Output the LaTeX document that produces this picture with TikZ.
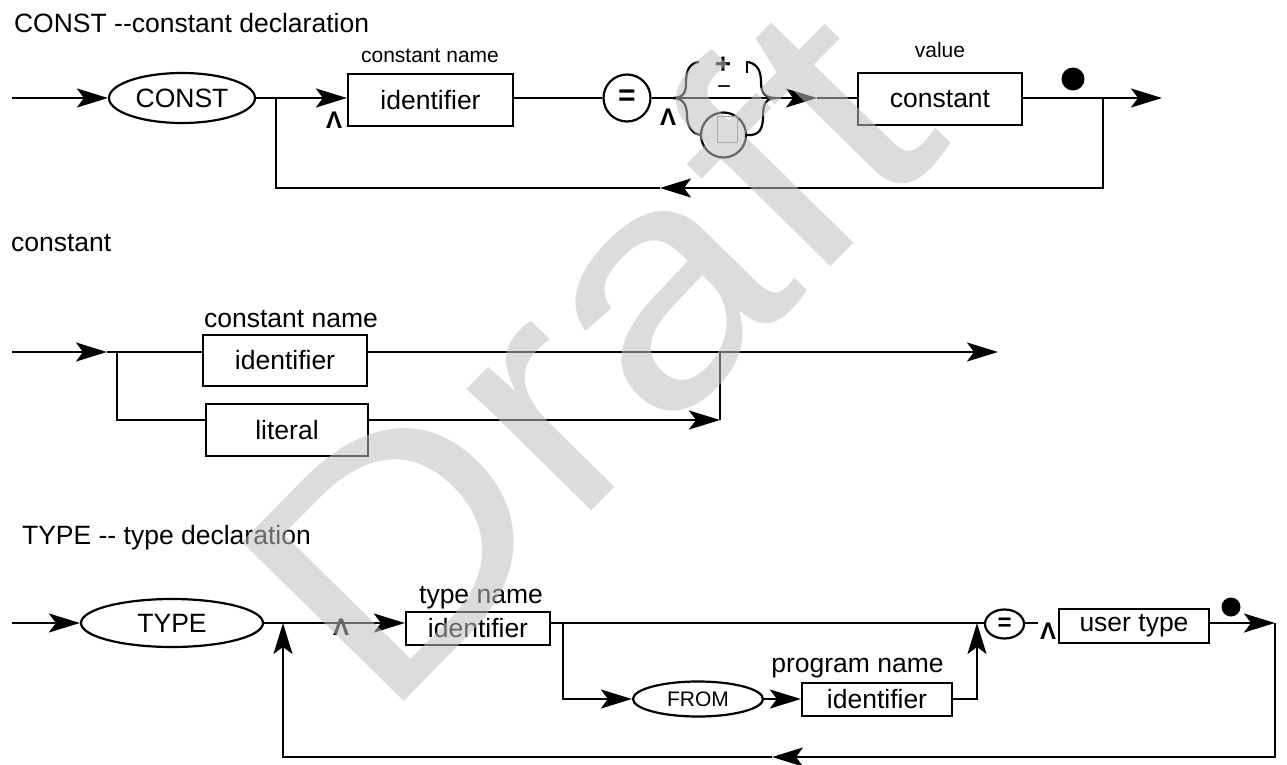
\documentclass[tikz,border=0pt]{standalone}
\usepackage{fontspec}
\setmainfont{Liberation Sans}
\usetikzlibrary{arrows.meta,shapes.geometric}
\definecolor{wmark}{RGB}{191,191,191}
\definecolor{tofu}{RGB}{150,150,150}

\tikzset{
  big/.style={font=\fontsize{26.5}{30}\selectfont},
  small/.style={font=\fontsize{21}{24}\selectfont},
  flow/.style={-{Stealth[length=31pt,width=19pt,inset=7pt]}},
  kw/.style={draw, ellipse, inner sep=0pt, big},
  term/.style={draw, rectangle, inner sep=0pt, big},
  lbl/.style={anchor=base, inner sep=0pt},
  title/.style={big, anchor=base west, inner sep=0pt},
  caret/.style={inner sep=0pt, font=\fontsize{24}{24}\selectfont\bfseries},
  dot/.style={circle, fill, inner sep=0pt},
}

\begin{document}
\begin{tikzpicture}[x=1pt,y=-1pt,line width=2.2pt]
\useasboundingbox (0,0) rectangle (1287,765);

% ---------------- CONST declaration ----------------
\node[title] (t1) at (13,33) {CONST -{}-constant declaration};
\coordinate (s1) at (12,98);
\node[kw, minimum width=146pt, minimum height=50pt] (const) at (182,98) {CONST};
\node[term, minimum width=165pt, minimum height=52pt] (id1) at (430.5,100) {identifier};
\node[small, lbl] (l1) at (430,63) {constant name};
\node[caret] (c1) at (334,120) {Λ};
\node[draw, circle, minimum size=47pt, inner sep=0pt, font=\fontsize{30}{30}\selectfont\bfseries] (eq1) at (627,98) {=};
\node[term, minimum width=164pt, minimum height=52pt] (cst) at (940,99) {constant};
\node[small, lbl] (l2) at (940,58) {value};
\node[dot, minimum size=23pt] (d1) at (1073,79) {};
\coordinate (j1) at (276,98);
\coordinate (j2) at (1103,98);
\coordinate (e1) at (1162,98);
\coordinate (r1) at (660,188);
\coordinate (a1) at (817,98);

\draw[flow] (s1) -- (const.west);
\draw[flow] (const.east) -- (id1.west |- const.east);
\draw (id1.east |- eq1.west) -- (eq1.west);
\draw[flow] (eq1.east) -- (a1);
\draw (a1) -- (cst.west |- a1);
\draw[flow] (cst.east |- j2) -- (e1);
\draw[flow] (j2) |- (r1);
\draw (r1) -| (j1);

% sign choice
\coordinate (bl) at (673,98);
\coordinate (br) at (776,98);
\node[draw, circle, minimum size=45pt, inner sep=0pt] (alt) at (723.5,135) {};
\draw[tofu, line width=1pt] (717,117) rectangle (737,142);
\node[inner sep=0pt, font=\fontsize{28}{28}\selectfont\bfseries] (plus) at (723,65) {+};
\node[inner sep=0pt, font=\fontsize{24}{24}\selectfont] (minus) at (724,90) {−};
\node[caret] (c2) at (668,117) {Λ};
\draw (bl) .. controls (685,98) and (686,90) .. (686,82) .. controls (686,70) and (690,63) .. (699,62);
\draw (bl) .. controls (685,98) and (687,108) .. (687,116) .. controls (687,128) and (694,134) .. (alt.west);
\draw (748,62) .. controls (758,64) and (761,72) .. (761,82) .. controls (761,94) and (766,98) .. (br);
\draw (alt.east) .. controls (760,136) and (763,128) .. (763,116) .. controls (763,104) and (766,98) .. (br);
\draw[line width=1.5pt] (747,61) -- (747,73);

% ---------------- constant ----------------
\node[title] (t2) at (10,251) {constant};
\coordinate (s2) at (12,352);
\coordinate (t2a) at (107,352);
\coordinate (j3) at (117,352);
\node[term, minimum width=164pt, minimum height=51pt] (id2) at (285,360.5) {identifier};
\node[big, lbl] (l3) at (291,327) {constant name};
\node[term, minimum width=162pt, minimum height=52pt] (lit) at (287,430) {literal};
\coordinate (m2) at (720,420);
\coordinate (e2) at (998,352);

\draw[flow] (s2) -- (t2a);
\draw (t2a) -- (id2.west |- t2a);
\draw (j3) |- (lit.west |- m2);
\draw[flow] (lit.east |- m2) -- (m2);
\draw (m2) -- (m2 |- e2);
\draw[flow] (id2.east |- e2) -- (e2);

% ---------------- TYPE declaration ----------------
\node[title] (t3) at (21,544) {TYPE -{}- type declaration};
\coordinate (s3) at (12,623);
\node[kw, minimum width=182pt, minimum height=48pt] (type) at (172,623) {TYPE};
\coordinate (j4) at (283,623);
\node[caret] (c3) at (341,627) {Λ};
\node[term, minimum width=144pt, minimum height=33pt] (id3) at (478,628.5) {identifier};
\node[big, lbl] (l4) at (481,603) {type name};
\coordinate (j5) at (563,623);
\node[kw, small, minimum width=130pt, minimum height=35pt] (from) at (698,699) {FROM};
\node[term, minimum width=150pt, minimum height=33pt] (id4) at (877,699.5) {identifier};
\node[big, lbl] (l5) at (857.5,672) {program name};
\coordinate (j6) at (977,623);
\node[draw, ellipse, minimum width=39pt, minimum height=29pt, inner sep=0pt, font=\fontsize{24}{24}\selectfont\bfseries] (eq2) at (1004.5,624) {=};
\coordinate (q2) at (1038,623);
\node[caret] (c4) at (1048,631) {Λ};
\node[term, minimum width=150pt, minimum height=34pt] (ut) at (1134,626) {user type};
\node[dot, minimum size=19pt] (d2) at (1231,607) {};
\coordinate (e3) at (1275,623);
\coordinate (r3) at (772,757);

\draw[flow] (s3) -- (type.west);
\draw (type.east) -- (j4);
\draw[flow] (j4) -- (id3.west |- j4);
\draw (id3.east |- j4) -- (eq2.west |- j4);
\draw[flow] (j5) |- (from.west);
\draw[flow] (from.east) -- (id4.west |- from.east);
\draw[flow] (id4.east |- from.east) -| (j6);
\draw (eq2.east |- q2) -- (q2);
\draw[flow] (ut.east |- e3) -- (e3);
\draw[flow] (e3) |- (r3);
\draw[flow] (r3) -| (j4);

% ---------------- watermark ----------------
\node[rotate=45.5, xscale=1.14, anchor=base west, text=wmark, text opacity=0.55,
      inner sep=0pt, font=\fontsize{330}{330}\selectfont] (wm) at (382,724) {Draft};
\end{tikzpicture}
\end{document}
